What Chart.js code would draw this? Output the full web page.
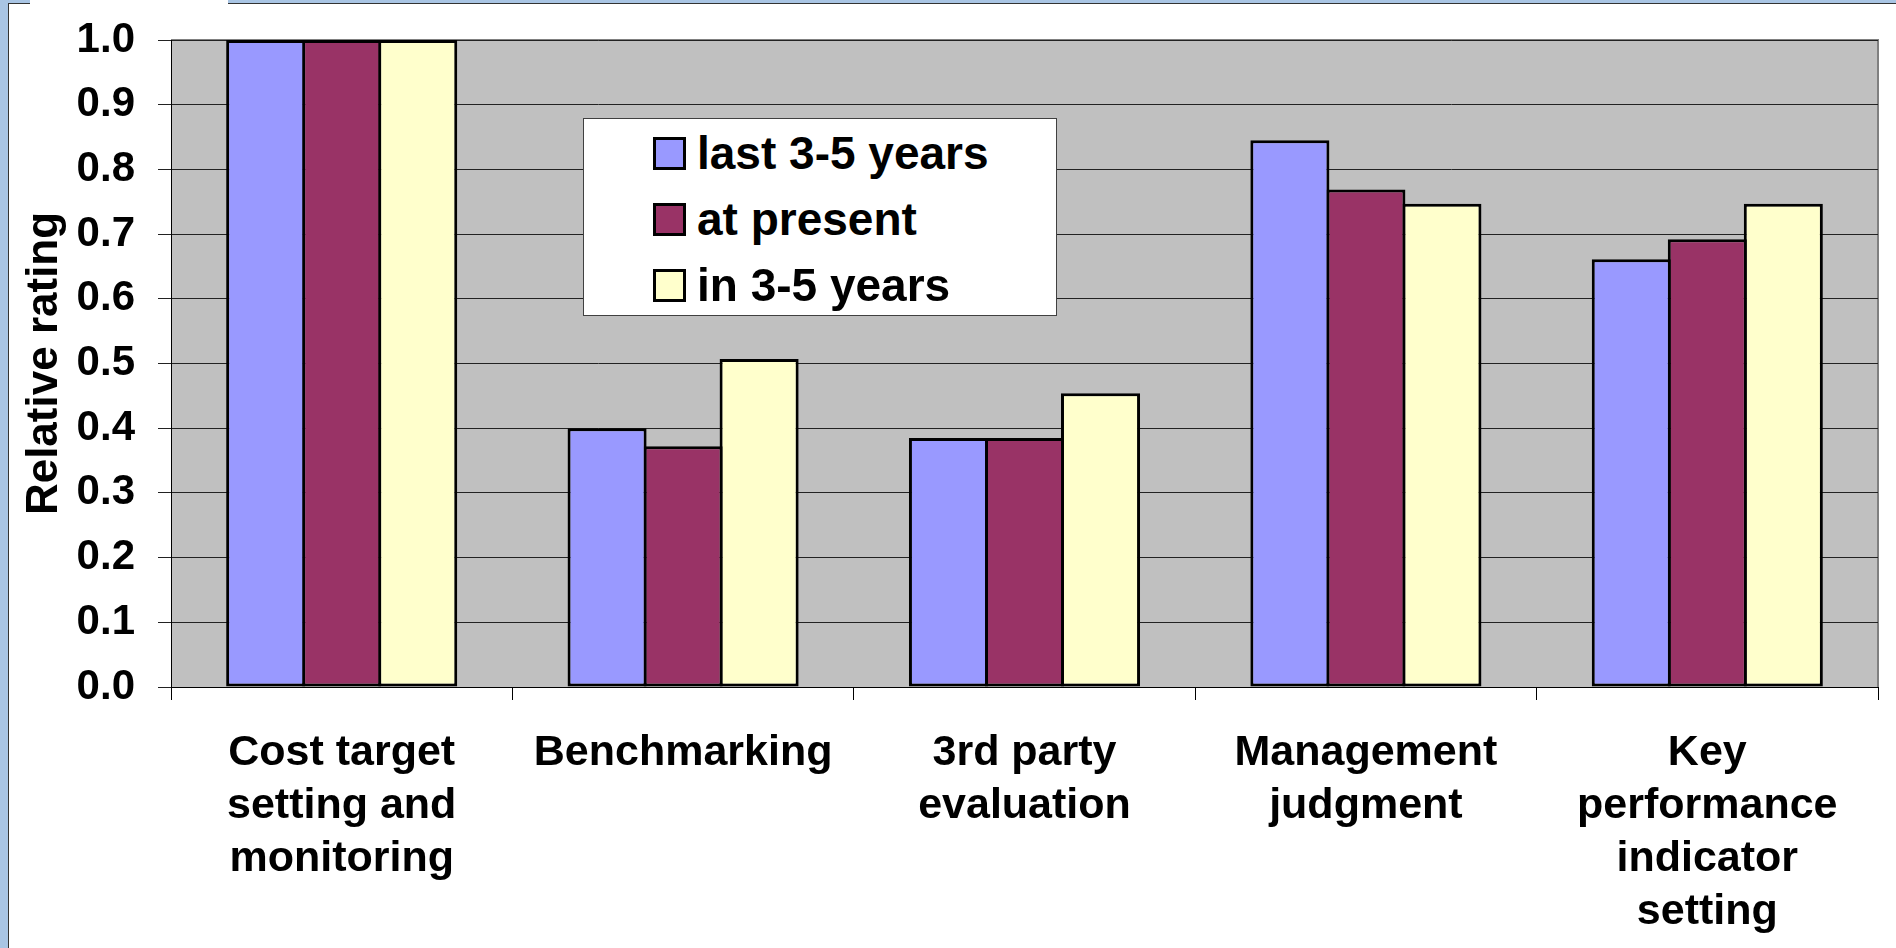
<!DOCTYPE html>
<html>
<head>
<meta charset="utf-8">
<script src="https://cdn.jsdelivr.net/npm/chart.js@4.4.1/dist/chart.umd.min.js"></script>
<style>
  body { margin: 0; width: 1896px; height: 948px; overflow: hidden; background: #a9c5e4; font-family: "Liberation Sans", Arial, sans-serif; }
  #panel { position: absolute; left: 8px; top: 3px; right: 0; bottom: 0; background: #fff; border-left: 1px solid #333; border-top: 1px solid #333; }
  #tab { position: absolute; left: 30px; top: 0; width: 198px; height: 4px; background: #fff; }
  #wrap { position: absolute; left: 0; top: 0; width: 1896px; height: 948px; }
  #legend { position: absolute; left: 583px; top: 118px; width: 474px; height: 198px; box-sizing: border-box; border: 1px solid #404040; background: #fff; padding-top: 1px; z-index: 2; }
  .row { height: 66px; position: relative; }
  .sw { position: absolute; left: 69px; top: 17px; width: 33px; height: 33px; box-sizing: border-box; border: 3px solid #000; }
  .lbl { position: absolute; left: 113px; top: 0; line-height: 66px; font-size: 46px; font-weight: bold; color: #000; white-space: nowrap; }
</style>
</head>
<body>
<div id="panel"></div>
<div id="tab"></div>
<div id="wrap"><canvas id="chart"></canvas></div>
<div id="legend"></div>
<script>
const categories = [
    ['Cost target', 'setting and', 'monitoring'],
    ['Benchmarking'],
    ['3rd party', 'evaluation'],
    ['Management', 'judgment'],
    ['Key', 'performance', 'indicator', 'setting']
];
const seriesNames = ['last 3-5 years', 'at present', 'in 3-5 years'];
const seriesColors = ['#9999ff', '#993366', '#ffffcc'];

const lastYears = [1.0, 0.400, 0.385, 0.845, 0.661];
const atPresent = [1.0, 0.372, 0.385, 0.769, 0.692];
const inYears = [1.0, 0.507, 0.454, 0.747, 0.747];

const FONT = "'Liberation Sans', Arial, sans-serif";

// grey plot background with a darker right/top frame
const plotBackground = {
    id: 'plotBackground',
    beforeDraw(chart) {
        const { ctx, chartArea: a } = chart;
        ctx.save();
        ctx.fillStyle = '#c0c0c0';
        ctx.fillRect(a.left, a.top, a.right - a.left, a.bottom - a.top);
        ctx.strokeStyle = '#808080';
        ctx.lineWidth = 2;
        ctx.beginPath();
        ctx.moveTo(a.left, a.top);
        ctx.lineTo(a.right, a.top);
        ctx.lineTo(a.right, a.bottom);
        ctx.stroke();
        ctx.restore();
    }
};

function makeDataset(i, values) {
    return {
        label: seriesNames[i],
        data: values,
        backgroundColor: seriesColors[i],
        borderColor: '#000',
        borderWidth: 3,
        borderSkipped: false,
        categoryPercentage: 0.668,
        barPercentage: 1.04
    };
}

function renderLegend() {
    const box = document.getElementById('legend');
    seriesNames.forEach((name, i) => {
        const row = document.createElement('div');
        row.className = 'row';
        row.innerHTML = `<div class="sw" style="background:${seriesColors[i]}"></div><div class="lbl">${name}</div>`;
        box.appendChild(row);
    });
}

function renderChart() {
    const ctx = document.getElementById('chart').getContext('2d');
    new Chart(ctx, {
        type: 'bar',
        data: {
            labels: categories,
            datasets: [
                makeDataset(0, lastYears),
                makeDataset(1, atPresent),
                makeDataset(2, inYears)
            ]
        },
        options: {
            responsive: true,
            maintainAspectRatio: false,
            animation: false,
            layout: { padding: { left: 0, top: 40, right: 18, bottom: 0 } },
            plugins: {
                legend: { display: false },
                tooltip: { enabled: false }
            },
            scales: {
                x: {
                    afterFit: s => { s.height = 261; s.paddingLeft = 0; s.paddingRight = 0; },
                    grid: { drawOnChartArea: false, offset: true, tickLength: 13, color: '#000' },
                    border: { color: '#000', width: 1 },
                    ticks: {
                        color: '#000',
                        padding: 27,
                        maxRotation: 0,
                        autoSkip: false,
                        font: { family: FONT, size: 43, weight: 'bold', lineHeight: 1.233 }
                    }
                },
                y: {
                    min: 0,
                    max: 1,
                    afterFit: s => { s.width = 171; s.paddingTop = 0; s.paddingBottom = 0; },
                    grid: { color: '#222', lineWidth: 1, tickLength: 13 },
                    border: { color: '#000', width: 1 },
                    ticks: {
                        stepSize: 0.1,
                        color: '#000',
                        padding: 23,
                        font: { family: FONT, size: 42, weight: 'bold' },
                        callback: v => v.toFixed(1)
                    },
                    title: {
                        display: true,
                        text: 'Relative rating',
                        color: '#000',
                        padding: { top: 18, bottom: 0 },
                        font: { family: FONT, size: 44, weight: 'bold' }
                    }
                }
            }
        },
        plugins: [plotBackground]
    });
}

renderLegend();
renderChart();
</script>
</body>
</html>
